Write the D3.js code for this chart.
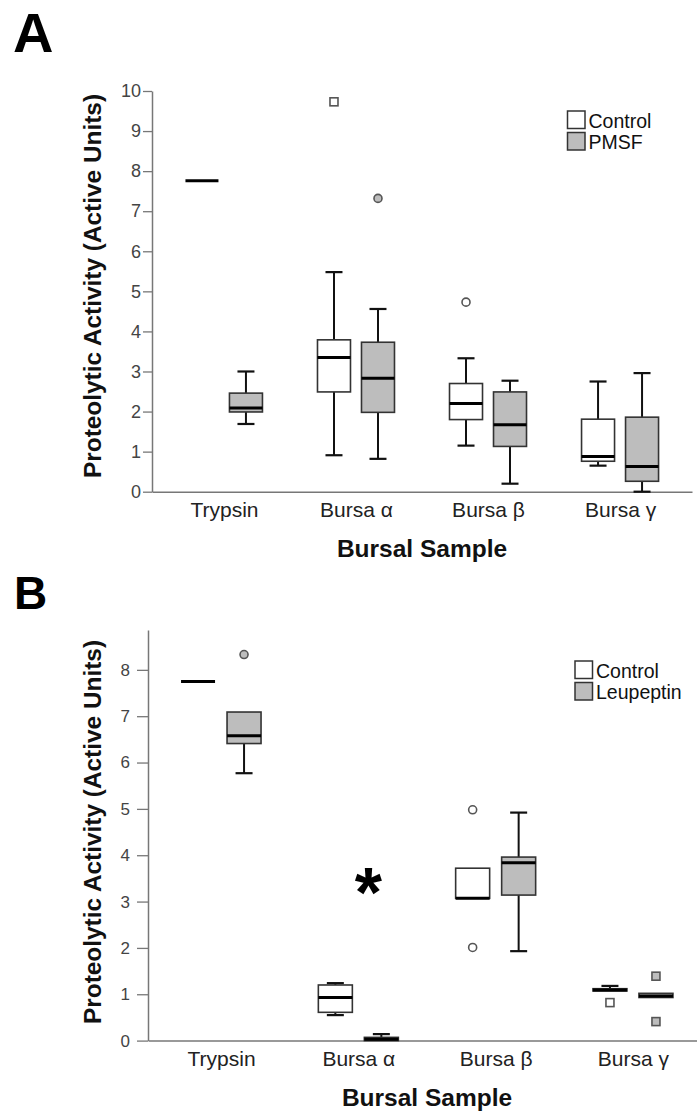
<!DOCTYPE html>
<html>
<head>
<meta charset="utf-8">
<script src="https://cdn.jsdelivr.net/npm/d3@7"></script>
<style>
  body { margin: 0; background: #fff; }
  svg { display: block; font-family: "Liberation Sans", Arial, sans-serif; }
</style>
</head>
<body>
<div id="chart"></div>
<script>
// categories on the x axis
var categories = ["Trypsin", "Bursa α", "Bursa β", "Bursa γ"];

// box stats per category: [min, q1, median, q3, max]
var controlA = [
  [7.76, 7.76, 7.76, 7.76, 7.76],
  [0.91, 2.49, 3.35, 3.79, 5.48],
  [1.15, 1.80, 2.20, 2.70, 3.33],
  [0.65, 0.76, 0.88, 1.81, 2.75]
];
var pmsfA = [
  [1.69, 1.99, 2.09, 2.46, 3.00],
  [0.82, 1.98, 2.83, 3.73, 4.56],
  [0.20, 1.13, 1.67, 2.49, 2.77],
  [0.00, 0.26, 0.63, 1.86, 2.96]
];
var controlB = [
  [7.75, 7.75, 7.75, 7.75, 7.75],
  [0.55, 0.61, 0.93, 1.20, 1.24],
  [3.07, 3.07, 3.07, 3.72, 3.72],
  [1.07, 1.07, 1.09, 1.12, 1.18]
];
var leupeptinB = [
  [5.77, 6.41, 6.58, 7.09, 7.09],
  [0.00, 0.00, 0.03, 0.07, 0.14],
  [1.93, 3.14, 3.84, 3.96, 4.92],
  [0.93, 0.93, 0.96, 1.02, 1.02]
];

// outliers: category, group (0 control / 1 treatment), value, marker
var outliersA = [
  {cat: "Bursa α", group: 0, value: 9.73, shape: "square"},
  {cat: "Bursa α", group: 1, value: 7.32, shape: "circle"},
  {cat: "Bursa β", group: 0, value: 4.73, shape: "circle"}
];
var outliersB = [
  {cat: "Trypsin", group: 1, value: 8.33, shape: "circle"},
  {cat: "Bursa β", group: 0, value: 4.98, shape: "circle"},
  {cat: "Bursa β", group: 0, value: 2.01, shape: "circle"},
  {cat: "Bursa γ", group: 0, value: 0.82, shape: "square"},
  {cat: "Bursa γ", group: 1, value: 1.39, shape: "square"},
  {cat: "Bursa γ", group: 1, value: 0.41, shape: "square"}
];

var ticksA = [0, 1, 2, 3, 4, 5, 6, 7, 8, 9, 10];
var ticksB = [0, 1, 2, 3, 4, 5, 6, 7, 8];

var grayFill = "#bdbdbd";

var svg = d3.select("#chart")
  .append("svg")
  .attr("width", 697)
  .attr("height", 1115);

// draw one panel's boxes for one group
function drawBoxes(g, x, y, stats, offset, boxW, fill) {
  var capW = 17;
  categories.forEach(function(cat, i) {
    var s = stats[i];
    var cx = x(cat) + offset;
    if (s[0] === s[4]) {
      g.append("line")
        .attr("x1", cx - boxW / 2).attr("x2", cx + boxW / 2)
        .attr("y1", y(s[2])).attr("y2", y(s[2]))
        .attr("stroke", "#000").attr("stroke-width", 3);
      return;
    }
    // whiskers
    if (s[4] > s[3]) {
      g.append("line").attr("x1", cx).attr("x2", cx)
        .attr("y1", y(s[4])).attr("y2", y(s[3]))
        .attr("stroke", "#111").attr("stroke-width", 2);
      g.append("line").attr("x1", cx - capW / 2).attr("x2", cx + capW / 2)
        .attr("y1", y(s[4])).attr("y2", y(s[4]))
        .attr("stroke", "#111").attr("stroke-width", 2.2);
    }
    if (s[0] < s[1]) {
      g.append("line").attr("x1", cx).attr("x2", cx)
        .attr("y1", y(s[1])).attr("y2", y(s[0]))
        .attr("stroke", "#111").attr("stroke-width", 2);
      g.append("line").attr("x1", cx - capW / 2).attr("x2", cx + capW / 2)
        .attr("y1", y(s[0])).attr("y2", y(s[0]))
        .attr("stroke", "#111").attr("stroke-width", 2.2);
    }
    g.append("rect")
      .attr("x", cx - boxW / 2)
      .attr("y", y(s[3]))
      .attr("width", boxW)
      .attr("height", Math.max(y(s[1]) - y(s[3]), 1))
      .attr("fill", fill)
      .attr("stroke", "#333")
      .attr("stroke-width", 1.6);
    g.append("line")
      .attr("x1", cx - boxW / 2).attr("x2", cx + boxW / 2)
      .attr("y1", y(s[2])).attr("y2", y(s[2]))
      .attr("stroke", "#000").attr("stroke-width", 3);
  });
}

function drawOutliers(g, x, y, list, offset) {
  list.forEach(function(o) {
    var cx = x(o.cat) + (o.group === 0 ? -offset : offset);
    var fill = o.group === 0 ? "#fff" : grayFill;
    if (o.shape === "circle") {
      g.append("circle").attr("cx", cx).attr("cy", y(o.value)).attr("r", 4)
        .attr("fill", fill).attr("stroke", "#555").attr("stroke-width", 1.6);
    } else {
      g.append("rect").attr("x", cx - 4).attr("y", y(o.value) - 4)
        .attr("width", 8).attr("height", 8)
        .attr("fill", fill).attr("stroke", "#555").attr("stroke-width", 1.6);
    }
  });
}

function drawPanel(opt) {
  var g = svg.append("g");
  var x = d3.scalePoint().domain(categories).range(opt.xRange).padding(opt.pad);
  var y = d3.scaleLinear().domain(opt.yDomain).range(opt.yRange);

  // y axis
  var yAxis = g.append("g")
    .attr("transform", "translate(" + opt.xRange[0] + ",0)")
    .call(d3.axisLeft(y).tickValues(opt.ticks).tickSize(opt.tickSize)
      .tickSizeOuter(0).tickPadding(opt.tickPad).tickFormat(d3.format("d")));
  yAxis.select(".domain").attr("stroke", "#777").attr("stroke-width", 1.5);
  yAxis.selectAll(".tick line").attr("stroke", "#777").attr("stroke-width", 1.3);
  yAxis.selectAll(".tick text")
    .attr("font-size", opt.tickFont).attr("fill", "#444")
    .attr("font-family", "Liberation Sans, Arial, sans-serif");

  // x axis
  var xAxis = g.append("g")
    .attr("transform", "translate(0," + opt.yRange[0] + ")")
    .call(d3.axisBottom(x).tickSize(0).tickSizeOuter(0).tickPadding(0));
  xAxis.select(".domain").attr("stroke", "#777").attr("stroke-width", 1.5);
  xAxis.selectAll(".tick text")
    .attr("dy", null)
    .attr("y", 25)
    .attr("font-size", 21).attr("fill", "#222")
    .attr("font-family", "Liberation Sans, Arial, sans-serif");

  drawBoxes(g, x, y, opt.control, -opt.offset, opt.boxW, "#fff");
  drawBoxes(g, x, y, opt.treat, opt.offset, opt.boxW, grayFill);
  drawOutliers(g, x, y, opt.outliers, opt.offset);

  // axis titles
  g.append("text")
    .attr("x", (opt.xRange[0] + opt.xRange[1]) / 2)
    .attr("y", opt.yRange[0] + 65)
    .attr("text-anchor", "middle")
    .attr("font-size", 24.5).attr("font-weight", "bold").attr("fill", "#111")
    .text("Bursal Sample");

  g.append("text")
    .attr("transform", "translate(101," + opt.yLabelY + ") rotate(-90)")
    .attr("text-anchor", "middle")
    .attr("font-size", 24.4).attr("font-weight", "bold").attr("fill", "#111")
    .text("Proteolytic Activity (Active Units)");

  // panel letter
  g.append("text")
    .attr("x", opt.letterX).attr("y", opt.letterY)
    .attr("font-size", opt.letterSize).attr("font-weight", "bold").attr("fill", "#000")
    .text(opt.letter);

  // legend
  var leg = g.append("g");
  [["Control", "#fff"], [opt.treatName, grayFill]].forEach(function(d, i) {
    leg.append("rect")
      .attr("x", opt.legX).attr("y", opt.legY + i * 21.5)
      .attr("width", 17.5).attr("height", 17.5)
      .attr("fill", d[1]).attr("stroke", "#333").attr("stroke-width", 1.5);
    leg.append("text")
      .attr("x", opt.legX + 21).attr("y", opt.legY + i * 21.5 + 16.5)
      .attr("font-size", 19.5).attr("fill", "#111")
      .text(d[0]);
  });

  return {g: g, x: x, y: y};
}

drawPanel({
  letter: "A", letterX: 13, letterY: 52, letterSize: 56,
  xRange: [152, 692], pad: 0.545,
  yDomain: [0, 10], yRange: [491.7, 91],
  ticks: ticksA, tickSize: 9, tickPad: 2, tickFont: 18,
  control: controlA, treat: pmsfA, outliers: outliersA,
  offset: 22, boxW: 33,
  yLabelY: 286,
  treatName: "PMSF", legX: 567.5, legY: 111
});

var panelB = drawPanel({
  letter: "B", letterX: 14, letterY: 609.3, letterSize: 46,
  xRange: [148, 706], pad: 0.532,
  yDomain: [0, 8.86], yRange: [1040.6, 630],
  ticks: ticksB, tickSize: 11, tickPad: 7, tickFont: 17,
  control: controlB, treat: leupeptinB, outliers: outliersB,
  offset: 23, boxW: 34,
  yLabelY: 832,
  treatName: "Leupeptin", legX: 575, legY: 661
});

// significance mark over Bursa α
panelB.g.append("text")
  .attr("x", panelB.x("Bursa α") + 10)
  .attr("y", panelB.y(3.4) + 34)
  .attr("text-anchor", "middle")
  .attr("font-size", 70).attr("font-weight", "bold").attr("fill", "#000")
  .text("*");
</script>
</body>
</html>
